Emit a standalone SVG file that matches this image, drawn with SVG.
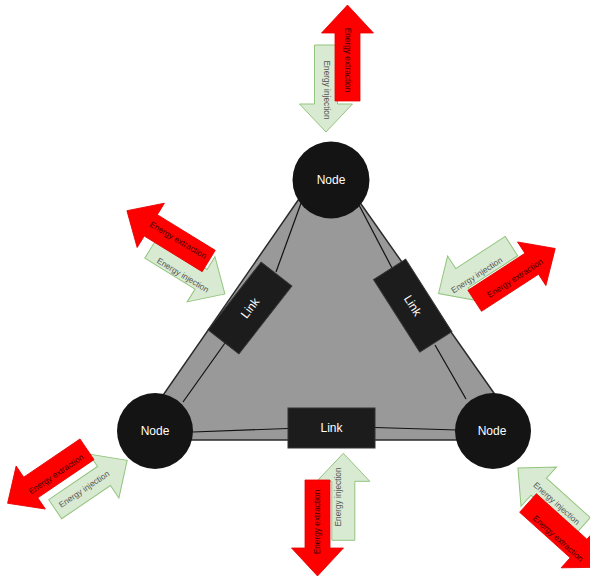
<svg xmlns="http://www.w3.org/2000/svg" width="590" height="578" viewBox="0 0 590 578">
  <style>
    .tri { fill: #999999; stroke: #2b2b2b; stroke-width: 1.5; stroke-linejoin: round; }
    .conn { stroke: #111111; stroke-width: 1.2; fill: none; }
    .node { fill: #141414; }
    .link { fill: #1c1c1c; stroke: #333333; stroke-width: 1; }
    .lbl { font-family: "Liberation Sans", Arial, sans-serif; font-size: 12px; fill: #ffffff; text-anchor: middle; dominant-baseline: central; }
    .out { fill: #ff0000; stroke: #e60000; stroke-width: 0.8; stroke-linejoin: miter; }
    .in { fill: #d9ead3; stroke: #93c47d; stroke-width: 1; stroke-linejoin: miter; }
    .atxt { font-family: "Liberation Sans", Arial, sans-serif; font-size: 8.3px; text-anchor: middle; dominant-baseline: central; }
    .outt { fill: #3a0000; }
    .int { fill: #555555; }
  </style>
  <defs>
    <!-- block arrows drawn from tail (0,0) toward +x -->
    <path id="arrowOut" d="M0,-12.5 H68 V-26 L96,0 L68,26 V12.5 H0 Z"/>
    <path id="arrowIn" d="M0,-11.5 H59 V-26.5 L87,0 L59,26.5 V11.5 H0 Z"/>
  </defs>

  <rect width="590" height="578" fill="#ffffff"/>

  <!-- shaded network area -->
  <polygon id="area" class="tri" points="328,157 132,440 527,440"/>

  <!-- connectors between nodes and links -->
  <g id="connectors" class="conn">
    <line x1="304" y1="195" x2="276" y2="272"/>
    <line x1="225" y1="343" x2="183" y2="402"/>
    <line x1="359" y1="205" x2="392" y2="268"/>
    <line x1="435" y1="345" x2="466" y2="399"/>
    <line x1="193" y1="432" x2="288" y2="428.5"/>
    <line x1="375" y1="427.5" x2="457" y2="430"/>
  </g>

  <!-- links -->
  <g id="link-left" transform="translate(250,308) rotate(-52)">
    <rect class="link" x="-43" y="-19.5" width="86" height="39"/>
    <text class="lbl" x="0" y="0">Link</text>
  </g>
  <g id="link-right" transform="translate(412.7,305.6) rotate(57.5)">
    <rect class="link" x="-43" y="-19" width="86" height="38"/>
    <text class="lbl" x="0" y="0">Link</text>
  </g>
  <g id="link-bottom">
    <rect class="link" x="288" y="408" width="87" height="40"/>
    <text class="lbl" x="331.5" y="428">Link</text>
  </g>

  <!-- nodes -->
  <g id="node-top">
    <circle class="node" cx="331" cy="180" r="38.5"/>
    <text class="lbl" x="331" y="180">Node</text>
  </g>
  <g id="node-left">
    <circle class="node" cx="155" cy="431" r="38"/>
    <text class="lbl" x="155" y="431">Node</text>
  </g>
  <g id="node-right">
    <circle class="node" cx="493" cy="431" r="38"/>
    <text class="lbl" x="492" y="431">Node</text>
  </g>

  <!-- energy arrows: top -->
  <g id="energy-top">
    <use href="#arrowIn" class="in" transform="translate(326,45) rotate(90)"/>
    <use href="#arrowOut" class="out" transform="translate(347.5,101) rotate(-90)"/>
    <text class="atxt int" transform="translate(327,90) rotate(90)">Energy injection</text>
    <text class="atxt outt" transform="translate(348,60) rotate(90)">Energy extraction</text>
  </g>

  <!-- energy arrows: upper left -->
  <g id="energy-upper-left">
    <use href="#arrowIn" class="in" transform="translate(150.8,248.4) rotate(31.6)"/>
    <use href="#arrowOut" class="out" transform="translate(208.7,261) rotate(-148.4)"/>
    <text class="atxt int" transform="translate(183,275) rotate(31)">Energy injection</text>
    <text class="atxt outt" transform="translate(178.3,240) rotate(31)">Energy extraction</text>
  </g>

  <!-- energy arrows: right -->
  <g id="energy-right">
    <use href="#arrowIn" class="in" transform="translate(511.5,246.1) rotate(147)"/>
    <use href="#arrowOut" class="out" transform="translate(474.7,300.8) rotate(-33)"/>
    <text class="atxt int" transform="translate(476.7,275) rotate(-33)">Energy injection</text>
    <text class="atxt outt" transform="translate(515,278) rotate(-33)">Energy extraction</text>
  </g>

  <!-- energy arrows: bottom left -->
  <g id="energy-bottom-left">
    <use href="#arrowIn" class="in" transform="translate(55.2,509.2) rotate(-34.2)"/>
    <use href="#arrowOut" class="out" transform="translate(87,449.3) rotate(145.8)"/>
    <text class="atxt int" transform="translate(84,489) rotate(-34)">Energy injection</text>
    <text class="atxt outt" transform="translate(56,474) rotate(-34)">Energy extraction</text>
  </g>

  <!-- energy arrows: bottom -->
  <g id="energy-bottom">
    <use href="#arrowIn" class="in" transform="translate(343.3,540.3) rotate(-90)"/>
    <use href="#arrowOut" class="out" transform="translate(317.5,480) rotate(90)"/>
    <text class="atxt int" transform="translate(338,497) rotate(-90)">Energy injection</text>
    <text class="atxt outt" transform="translate(317,522) rotate(-90)">Energy extraction</text>
  </g>

  <!-- energy arrows: bottom right -->
  <g id="energy-bottom-right">
    <use href="#arrowIn" class="in" transform="translate(582.6,526.2) rotate(-138)"/>
    <use href="#arrowOut" class="out" transform="translate(528,503) rotate(42)"/>
    <text class="atxt int" transform="translate(556.7,503.3) rotate(42)">Energy injection</text>
    <text class="atxt outt" transform="translate(558.3,538.3) rotate(42)">Energy extraction</text>
  </g>
</svg>
